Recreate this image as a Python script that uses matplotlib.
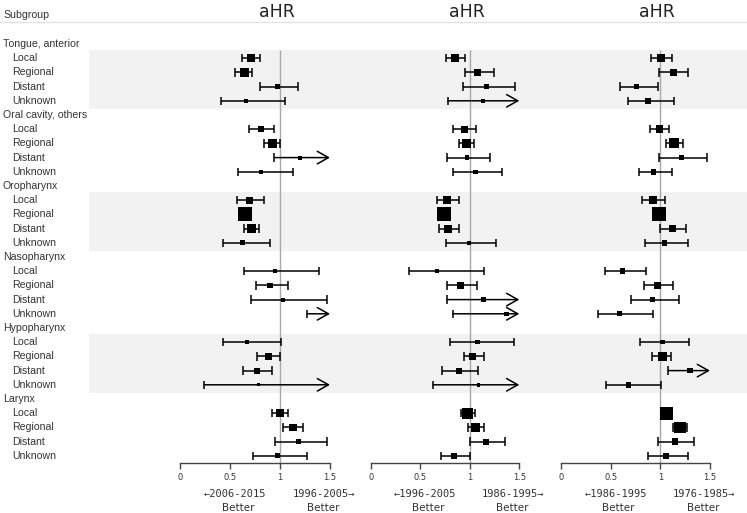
import numpy as np
import matplotlib
matplotlib.use("Agg")
import matplotlib.pyplot as plt

# ---- data (aHR, 95% CI, box size in px ~ weight) ----
groups = ["Tongue, anterior", "Oral cavity, others", "Oropharynx",
          "Nasopharynx", "Hypopharynx", "Larynx"]
stages = ["Local", "Regional", "Distant", "Unknown"]

# panel 1: 2006-2015 vs 1996-2005
hr1 = [0.71, 0.64, 0.97, 0.66, 0.81, 0.92, 1.20, 0.81, 0.69, 0.65, 0.71, 0.62,
       0.95, 0.90, 1.03, 1.60, 0.67, 0.88, 0.77, 0.78, 1.00, 1.13, 1.18, 0.97]
lo1 = [0.62, 0.55, 0.80, 0.41, 0.69, 0.84, 0.94, 0.58, 0.57, 0.60, 0.64, 0.43,
       0.64, 0.76, 0.71, 1.27, 0.43, 0.77, 0.63, 0.24, 0.92, 1.03, 0.95, 0.73]
hi1 = [0.80, 0.72, 1.18, 1.05, 0.94, 1.00, 1.60, 1.13, 0.84, 0.70, 0.79, 0.90,
       1.39, 1.08, 1.47, 2.00, 1.01, 1.00, 0.92, 1.80, 1.08, 1.23, 1.47, 1.27]
sz1 = [8, 9, 5, 4, 6, 9, 4, 4, 7, 14, 9, 5,
       4, 5.5, 4, 3, 4.5, 7, 6, 3, 8.5, 7.5, 5, 5]

# panel 2: 1996-2005 vs 1986-1995
hr2 = [0.85, 1.08, 1.17, 1.13, 0.95, 0.97, 0.97, 1.06, 0.77, 0.74, 0.78, 0.99,
       0.67, 0.91, 1.14, 1.37, 1.08, 1.03, 0.89, 1.09, 0.98, 1.06, 1.16, 0.84]
lo2 = [0.76, 0.95, 0.93, 0.78, 0.83, 0.89, 0.77, 0.83, 0.67, 0.70, 0.69, 0.76,
       0.39, 0.77, 0.77, 0.83, 0.80, 0.94, 0.72, 0.63, 0.91, 0.98, 1.00, 0.71]
hi2 = [0.95, 1.24, 1.46, 1.60, 1.06, 1.04, 1.20, 1.33, 0.89, 0.79, 0.89, 1.26,
       1.14, 1.07, 1.65, 1.70, 1.45, 1.14, 1.08, 1.80, 1.05, 1.14, 1.36, 1.00]
sz2 = [8, 6.5, 4.5, 4, 7, 9, 4.5, 4.5, 7.5, 14, 8, 4,
       4.5, 7, 4.5, 4.5, 4.5, 7.5, 6, 3.5, 11, 9.5, 6, 6]

# panel 3: 1986-1995 vs 1976-1985
hr3 = [1.01, 1.13, 0.76, 0.88, 0.99, 1.14, 1.21, 0.93, 0.93, 0.99, 1.12, 1.04,
       0.62, 0.97, 0.92, 0.59, 1.02, 1.02, 1.30, 0.68, 1.06, 1.20, 1.15, 1.06]
lo3 = [0.91, 0.99, 0.59, 0.67, 0.90, 1.06, 0.99, 0.79, 0.82, 0.95, 1.00, 0.85,
       0.44, 0.84, 0.70, 0.37, 0.80, 0.92, 1.08, 0.45, 1.02, 1.13, 0.98, 0.88]
hi3 = [1.12, 1.28, 0.98, 1.14, 1.09, 1.23, 1.47, 1.12, 1.05, 1.03, 1.26, 1.28,
       0.86, 1.13, 1.19, 0.93, 1.29, 1.11, 1.60, 1.01, 1.10, 1.27, 1.34, 1.28]
sz3 = [8, 7, 5.5, 6, 7.5, 10, 5, 5.5, 8, 14, 7.5, 5.5,
       5.5, 6.5, 5.5, 5, 4.5, 9.5, 5.5, 5.5, 13, 11.5, 6.5, 6]

panels = [
    (hr1, lo1, hi1, sz1, "\u21902006-2015", "1996-2005\u2192"),
    (hr2, lo2, hi2, sz2, "\u21901996-2005", "1986-1995\u2192"),
    (hr3, lo3, hi3, sz3, "\u21901986-1995", "1976-1985\u2192"),
]
ticks = [0, 0.5, 1, 1.5]
xmax = 1.5

# ---- layout (pixel based, 747x513 at dpi 100) ----
W, H = 747, 513
row0_px, row_px = 44, 14.2          # first row centre, row pitch
top_px, bot_px = 22, 463
ytop = (top_px - row0_px) / row_px
ybot = (bot_px - row0_px) / row_px
ax_bottom = (H - bot_px) / H
ax_height = (bot_px - top_px) / H
panel_left = [180, 370.7, 561]
panel_width = [150, 148.6, 149]

txt_color = "#333333"
band_color = "#f2f2f2"

fig = plt.figure(figsize=(W / 100, H / 100), dpi=100)

# background axes: row labels, bands, header line
bg = fig.add_axes([0, ax_bottom, 1, ax_height])
bg.set_xlim(0, 1)
bg.set_ylim(ybot, ytop)
bg.axis("off")

rows_all = []
for g, name in enumerate(groups):
    r = g * 5
    bg.text(3 / W, r, name, ha="left", va="center", fontsize=7.6,
            family="Liberation Sans", color=txt_color)
    for j, st in enumerate(stages):
        bg.text(12 / W, r + 1 + j, st, ha="left", va="center", fontsize=7.6,
                family="Liberation Sans", color=txt_color)
        rows_all.append(r + 1 + j)
    if g % 2 == 0:
        bg.axhspan(r + 0.4, r + 4.55, xmin=89 / W, xmax=1, color=band_color,
                   lw=0, zorder=0)

bg.axhline(ytop, color="#e2e2e2", lw=1, clip_on=False)
bg.text(3 / W, (15 - row0_px) / row_px, "Subgroup", ha="left", va="center",
        fontsize=7.6, family="Liberation Sans", color=txt_color)

rows_all = np.array(rows_all, dtype=float)

for k, (hr, lo, hi, sz, left_lab, right_lab) in enumerate(panels):
    ax = fig.add_axes([panel_left[k] / W, ax_bottom, panel_width[k] / W, ax_height])
    ax.patch.set_alpha(0)
    ax.set_xlim(0, xmax)
    ax.set_ylim(ybot, ytop)
    hr = np.array(hr)
    lo = np.array(lo)
    hi = np.array(hi)
    sz = np.array(sz)

    ax.vlines(1, 0.4, ybot, color="#a8a8a8", lw=1, zorder=1)

    cut = hi > xmax
    ax.hlines(rows_all[~cut], lo[~cut], hi[~cut], color="black", lw=1.1, zorder=2)
    ax.vlines(lo, rows_all - 0.3, rows_all + 0.3, color="black", lw=1.1, zorder=2)
    ax.vlines(hi[~cut], rows_all[~cut] - 0.3, rows_all[~cut] + 0.3,
              color="black", lw=1.1, zorder=2)
    for y, l in zip(rows_all[cut], lo[cut]):
        ax.annotate("", xy=(xmax, y), xytext=(l, y), annotation_clip=False,
                    arrowprops=dict(arrowstyle="->,head_length=0.8,head_width=0.45",
                                    color="black", lw=1.1, shrinkA=0, shrinkB=0))

    vis = hr <= xmax
    ax.scatter(hr[vis], rows_all[vis], marker="s", s=(sz[vis] * 0.72) ** 2,
               color="black", linewidths=0, zorder=3)

    for s in ["top", "right", "left"]:
        ax.spines[s].set_visible(False)
    ax.spines["bottom"].set_bounds(0, xmax)
    ax.spines["bottom"].set_color("#444444")
    ax.spines["bottom"].set_linewidth(1)
    ax.set_yticks([])
    ax.set_xticks(ticks)
    ax.set_xticklabels(["0", "0.5", "1", "1.5"])
    ax.tick_params(axis="x", direction="out", length=4.5, width=1, color="#444444",
                   labelsize=6, labelcolor=txt_color, pad=3)

    ax.text(0.97, (12 - row0_px) / row_px, "aHR", ha="center", va="center",
            fontsize=12.5, family="DejaVu Sans", color="#222222")

    y1 = (494 - row0_px) / row_px
    y2 = (508 - row0_px) / row_px
    ax.text(0.55, y1, left_lab, ha="center", va="center", fontsize=7.5,
            family="DejaVu Sans Mono", color=txt_color, clip_on=False)
    ax.text(0.58, y2, "Better", ha="center", va="center", fontsize=7.5,
            family="DejaVu Sans", color=txt_color, clip_on=False)
    ax.text(1.44, y1, right_lab, ha="center", va="center", fontsize=7.5,
            family="DejaVu Sans Mono", color=txt_color, clip_on=False)
    ax.text(1.43, y2, "Better", ha="center", va="center", fontsize=7.5,
            family="DejaVu Sans", color=txt_color, clip_on=False)

fig.savefig("out.png", dpi=100)
plt.close(fig)
